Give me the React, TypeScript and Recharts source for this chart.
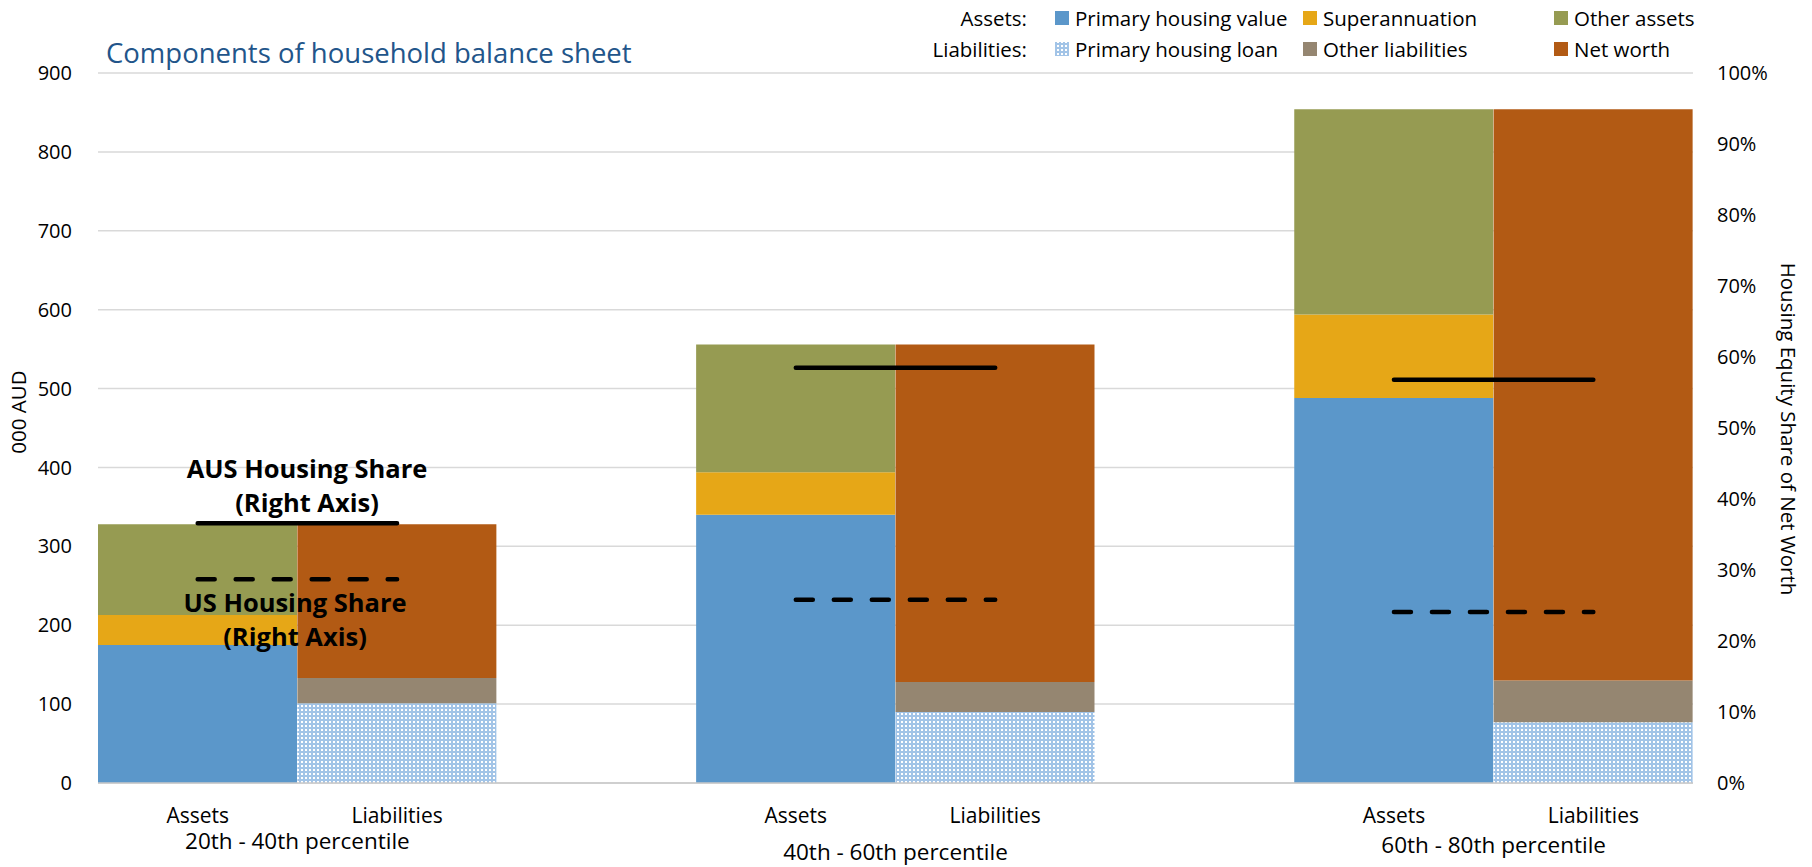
import React from 'react';
import { ComposedChart, Bar, Line, XAxis, YAxis, CartesianGrid } from 'recharts';

// One entry per income group, values in 000 AUD
const groupLabels = ['20th - 40th percentile', '40th - 60th percentile', '60th - 80th percentile'];
const housingValue = [175, 340, 488];
const superannuation = [38, 54, 106];
const otherAssets = [115, 162, 260];
const housingLoan = [101, 90, 77];
const otherLiabilities = [32, 38, 53];
const netWorth = [195, 428, 724];

// Housing equity share of net worth, %
const ausHousingShare = [36.6, 58.5, 56.8];
const usHousingShare = [28.7, 25.8, 24.1];

const leftTicks = [0, 100, 200, 300, 400, 500, 600, 700, 800, 900];
const rightTicks = [0, 10, 20, 30, 40, 50, 60, 70, 80, 90, 100];

const COLORS = {
  housingValue: '#5B97CA',
  superannuation: '#E6A717',
  otherAssets: '#969B52',
  housingLoan: 'url(#loanPattern)',
  otherLiabilities: '#958671',
  netWorth: '#B25A14',
};

const FONT = '"Open Sans", "Noto Sans", sans-serif';
const WIDTH = 1812;
const HEIGHT = 867;
const PLOT_LEFT = 98;
const PLOT_RIGHT = 119;
const PLOT_TOP = 73;
const X_AXIS_HEIGHT = 84;

// each group: an assets column, a liabilities column, then an empty spacer column
type Row = Record<string, string | number | null>;
const rows: Row[] = [];
groupLabels.forEach((_, i) => {
  rows.push({
    cat: 'Assets',
    housingValue: housingValue[i],
    superannuation: superannuation[i],
    otherAssets: otherAssets[i],
    aus: ausHousingShare[i],
    us: usHousingShare[i],
  });
  rows.push({
    cat: 'Liabilities',
    housingLoan: housingLoan[i],
    otherLiabilities: otherLiabilities[i],
    netWorth: netWorth[i],
    aus: ausHousingShare[i],
    us: usHousingShare[i],
  });
  if (i < groupLabels.length - 1) rows.push({ cat: '', aus: null, us: null });
});

const bandWidth = (WIDTH - PLOT_LEFT - PLOT_RIGHT) / rows.length;
// vertical nudge of each group caption under the axis
const groupLabelDy = [25, 36, 29];

const CategoryTick = (props: any) => {
  const { x, y, payload, index } = props;
  const group = Math.floor(index / 3);
  return (
    <g>
      <text x={x} y={y} dy="0.71em" textAnchor="middle" fontSize={21} fill="#000" fontFamily={FONT}>
        {payload.value}
      </text>
      {payload.value === 'Assets' && (
        <text
          x={x + bandWidth / 2}
          y={y + groupLabelDy[group]}
          dy="0.71em"
          textAnchor="middle"
          fontSize={22.5}
          fill="#000"
          fontFamily={FONT}
        >
          {groupLabels[group]}
        </text>
      )}
    </g>
  );
};

const legendRows = [
  {
    title: 'Assets:',
    items: [
      { label: 'Primary housing value', fill: COLORS.housingValue },
      { label: 'Superannuation', fill: COLORS.superannuation },
      { label: 'Other assets', fill: COLORS.otherAssets },
    ],
  },
  {
    title: 'Liabilities:',
    items: [
      { label: 'Primary housing loan', fill: 'url(#loanPatternLegend)' },
      { label: 'Other liabilities', fill: COLORS.otherLiabilities },
      { label: 'Net worth', fill: COLORS.netWorth },
    ],
  },
];
const legendColumnX = [1055, 1303, 1554];
const legendRowY = [18, 49];

// light blue with small white dots
const LoanPattern = ({ id }: { id: string }) => (
  <pattern id={id} patternUnits="userSpaceOnUse" width={4} height={4}>
    <rect width={4} height={4} fill="#A2C4E7" />
    <rect x={1} y={1} width={2} height={2} fill="#FFFFFF" />
  </pattern>
);

export default function App() {
  return (
    <div style={{ position: 'absolute', left: 0, top: 0, width: WIDTH, height: HEIGHT, background: '#fff' }}>
      <ComposedChart
        width={WIDTH}
        height={HEIGHT}
        data={rows}
        margin={{ top: PLOT_TOP, right: 0, bottom: 0, left: 0 }}
        barCategoryGap={0}
        barGap={0}
      >
        <defs>
          <LoanPattern id="loanPattern" />
        </defs>
        <CartesianGrid vertical={false} stroke="#D9D9D9" strokeWidth={1.5} yAxisId="left" />
        <XAxis
          dataKey="cat"
          interval={0}
          height={X_AXIS_HEIGHT}
          tickLine={false}
          tickSize={0}
          tickMargin={25}
          axisLine={{ stroke: '#C8C8C8', strokeWidth: 1.5 }}
          tick={<CategoryTick />}
        />
        <YAxis
          yAxisId="left"
          width={PLOT_LEFT}
          domain={[0, 900]}
          ticks={leftTicks}
          tickLine={false}
          axisLine={false}
          tickSize={0}
          tickMargin={26}
          tick={{ fontSize: 20, fill: '#000', fontFamily: FONT }}
        />
        <YAxis
          yAxisId="right"
          orientation="right"
          width={PLOT_RIGHT}
          domain={[0, 100]}
          ticks={rightTicks}
          tickLine={false}
          axisLine={false}
          tickSize={0}
          tickMargin={24}
          tickFormatter={(v: number) => `${v}%`}
          tick={{ fontSize: 20, fill: '#000', fontFamily: FONT }}
        />
        <Bar yAxisId="left" stackId="a" dataKey="housingValue" fill={COLORS.housingValue} isAnimationActive={false} />
        <Bar yAxisId="left" stackId="a" dataKey="superannuation" fill={COLORS.superannuation} isAnimationActive={false} />
        <Bar yAxisId="left" stackId="a" dataKey="otherAssets" fill={COLORS.otherAssets} isAnimationActive={false} />
        <Bar yAxisId="left" stackId="a" dataKey="housingLoan" fill={COLORS.housingLoan} isAnimationActive={false} />
        <Bar yAxisId="left" stackId="a" dataKey="otherLiabilities" fill={COLORS.otherLiabilities} isAnimationActive={false} />
        <Bar yAxisId="left" stackId="a" dataKey="netWorth" fill={COLORS.netWorth} isAnimationActive={false} />
        <Line
          yAxisId="right"
          dataKey="aus"
          stroke="#000"
          strokeWidth={4.5}
          strokeLinecap="round"
          dot={false}
          activeDot={false}
          isAnimationActive={false}
        />
        <Line
          yAxisId="right"
          dataKey="us"
          stroke="#000"
          strokeWidth={4.5}
          strokeLinecap="round"
          strokeDasharray="17 21"
          dot={false}
          activeDot={false}
          isAnimationActive={false}
        />
      </ComposedChart>

      <svg
        width={WIDTH}
        height={HEIGHT}
        style={{ position: 'absolute', left: 0, top: 0, pointerEvents: 'none' }}
        fontFamily={FONT}
      >
        <defs>
          <LoanPattern id="loanPatternLegend" />
        </defs>
        <text x={106} y={52} fontSize={27.5} fill="#22558A" dominantBaseline="central">
          Components of household balance sheet
        </text>

        {legendRows.map((row, r) => (
          <g key={row.title}>
            <text x={1027} y={legendRowY[r]} textAnchor="end" fontSize={20.5} dominantBaseline="central">
              {row.title}
            </text>
            {row.items.map((item, c) => (
              <g key={item.label}>
                <rect x={legendColumnX[c]} y={legendRowY[r] - 7} width={14} height={14} fill={item.fill} />
                <text x={legendColumnX[c] + 20} y={legendRowY[r]} fontSize={20.5} dominantBaseline="central">
                  {item.label}
                </text>
              </g>
            ))}
          </g>
        ))}

        <text
          transform="translate(18 412) rotate(-90)"
          textAnchor="middle"
          fontSize={20.5}
          dominantBaseline="central"
        >
          000 AUD
        </text>
        <text
          transform="translate(1789 429) rotate(90)"
          textAnchor="middle"
          fontSize={20.5}
          dominantBaseline="central"
        >
          Housing Equity Share of Net Worth
        </text>

        <g fontSize={25.5} fontWeight={700} textAnchor="middle" dominantBaseline="central">
          <text x={307} y={468}>AUS Housing Share</text>
          <text x={307} y={502}>(Right Axis)</text>
          <text x={295} y={602}>US Housing Share</text>
          <text x={295} y={636}>(Right Axis)</text>
        </g>
      </svg>
    </div>
  );
}
